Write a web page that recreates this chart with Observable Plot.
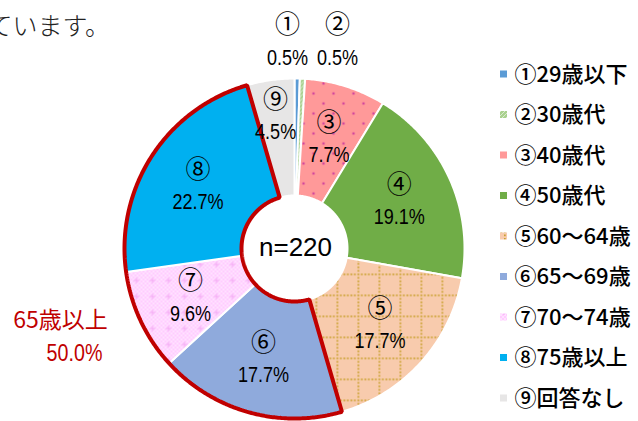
<!DOCTYPE html>
<html><head><meta charset="utf-8">
<script src="https://cdn.jsdelivr.net/npm/d3@7"></script>
<script src="https://cdn.jsdelivr.net/npm/@observablehq/plot@0.6"></script>
<style>
html,body{margin:0;padding:0;background:#fff;}
#chart svg{display:block}
</style></head><body>
<div id="chart"></div>
<script>
// ---- data ----
const categories = ["①","②","③","④","⑤","⑥","⑦","⑧","⑨"];
const legendLabels = ["①29歳以下","②30歳代","③40歳代","④50歳代","⑤60～64歳","⑥65～69歳","⑦70～74歳","⑧75歳以上","⑨回答なし"];
const values = [0.5, 0.5, 7.7, 19.1, 17.7, 17.7, 9.6, 22.7, 4.5];
const colors = ["#5B9BD5","#A9D18E","#FF9999","#70AD47","#F8CBAD","#8FAADC","#FFCCFF","#00B0F0","#E7E6E6"];
const patterns = [null,"diag","dots",null,"grid",null,"check",null,null];
const group65 = ["⑥","⑦","⑧"];
const groupTitle = "65歳以上";
const sampleSize = 220;
const titleText = "ています。";

// ---- pattern defs ----
const defsSvg = d3.select("body").insert("svg", "#chart").attr("width",0).attr("height",0).style("position","absolute");
const defs = defsSvg.append("defs");
function makePattern(id, kind, base){
  if (kind === "diag"){
    const p = defs.append("pattern").attr("id",id).attr("patternUnits","userSpaceOnUse").attr("width",4).attr("height",4);
    p.append("rect").attr("width",4).attr("height",4).attr("fill",base);
    p.append("path").attr("d","M0,4L4,0").attr("stroke","#D9EAD0").attr("stroke-width",1);
  } else if (kind === "dots"){
    const p = defs.append("pattern").attr("id",id).attr("patternUnits","userSpaceOnUse").attr("width",20).attr("height",20);
    p.append("rect").attr("width",20).attr("height",20).attr("fill",base);
    p.append("circle").attr("cx",3).attr("cy",3).attr("r",1.3).attr("fill","#D2459C");
    p.append("circle").attr("cx",13).attr("cy",13).attr("r",1.3).attr("fill","#D2459C");
  } else if (kind === "grid"){
    const p = defs.append("pattern").attr("id",id).attr("patternUnits","userSpaceOnUse").attr("width",21).attr("height",21);
    p.append("rect").attr("width",21).attr("height",21).attr("fill",base);
    for (let i = 0; i < 6; i++){
      p.append("rect").attr("x",i*3.5).attr("y",0).attr("width",1.7).attr("height",1.7).attr("fill","#C9A02E");
      if (i>0) p.append("rect").attr("x",0).attr("y",i*3.5).attr("width",1.7).attr("height",1.7).attr("fill","#C9A02E");
    }
  } else if (kind === "check"){
    const p = defs.append("pattern").attr("id",id).attr("patternUnits","userSpaceOnUse").attr("width",16).attr("height",16);
    p.append("rect").attr("width",16).attr("height",16).attr("fill","#FFE2FF");
    for (let i=0;i<8;i++) for (let j=0;j<8;j++) if ((i+j)%2===0)
      p.append("rect").attr("x",i*2).attr("y",j*2).attr("width",2).attr("height",2).attr("fill",base);
    p.append("path").attr("d","M8,5V11M5,8H11").attr("stroke","#F3A8F3").attr("stroke-width",1);
  }
}
const fills = colors.map((c,i) => {
  if (!patterns[i]) return c;
  const id = "pat" + i;
  makePattern(id, patterns[i], c);
  return `url(#${id})`;
});

// ---- layout ----
const W = 638, H = 421;
const cx = 294, cy = 248, R = 170, R0 = 53;
const total = d3.sum(values);
let cum = 0;
const slices = values.map((v,i) => {
  const a0 = cum / total * 2 * Math.PI; cum += v;
  const a1 = cum / total * 2 * Math.PI;
  return {key: categories[i], value: v, a0, a1, fill: fills[i], i};
});
const pt = (a, rad) => [cx + rad*Math.sin(a), cy - rad*Math.cos(a)];
function ring(a0, a1, key, extra){
  const n = Math.max(2, Math.ceil((a1-a0)/0.01));
  const out = [];
  for (let k=0;k<=n;k++){ const [x,y]=pt(a0+(a1-a0)*k/n, R); out.push({x,y,key,...extra}); }
  for (let k=n;k>=0;k--){ const [x,y]=pt(a0+(a1-a0)*k/n, R0); out.push({x,y,key,...extra}); }
  return out;
}
const slicePts = slices.flatMap(s => ring(s.a0, s.a1, s.key, {fill: s.fill}));
const g = slices.filter(s => group65.includes(s.key));
const groupPts = ring(d3.min(g, s=>s.a0), d3.max(g, s=>s.a1), "g65", {});
const groupValue = d3.sum(g, s=>s.value);

// labels
const small = slices.filter(s => s.value < 1);
const labels = slices.map(s => {
  const mid = (s.a0+s.a1)/2;
  if (s.value < 1){
    const j = small.indexOf(s);
    const x = cx + 18 + (j - (small.length-1)/2)*50;
    return {key:s.key, pct:s.value.toFixed(1)+"%", x, y1: cy-R-54, y2: cy-R-21};
  }
  const rad = s.value < 5 ? 134 : 115;
  const [x,y] = pt(mid, rad);
  return {key:s.key, pct:s.value.toFixed(1)+"%", x, y1:y-16, y2:y+16};
});

const legend = legendLabels.map((t,i) => ({t, fill: fills[i], y: 74 + i*40.5}));

const jp = "'Noto Sans CJK JP', 'Noto Sans', sans-serif";
const lib = "'Liberation Sans', Arial, sans-serif";

const chart = Plot.plot({
  width: W, height: H, margin: 0,
  x: {domain:[0,W], range:[0,W], axis:null},
  y: {domain:[0,H], range:[0,H], axis:null},
  color: {type:"identity"},
  style: {background:"white", overflow:"hidden"},
  marks: [
    Plot.text([titleText], {x: -13, y: 26, text: d=>d, textAnchor:"start", fontSize:25, fontFamily:jp, fontWeight:300, fill:"#222"}),
    Plot.line(slicePts, {x:"x", y:"y", z:"key", fill:"fill", stroke:"white", strokeWidth:2, curve:"linear-closed"}),
    Plot.line(groupPts, {x:"x", y:"y", z:"key", fill:"none", stroke:"#C00000", strokeWidth:4, curve:"linear-closed", strokeLinejoin:"miter"}),
    Plot.text([`n=${sampleSize}`], {x: cx+1, y: cy-1, text:d=>d, fontSize:26, fontFamily:lib, fill:"#000"}),
    Plot.text(labels, {x:"x", y:"y1", text:"key", fontSize:25, fontFamily:jp, fill:"#000"}),
    Plot.text(labels, {x:"x", y:"y2", text:"pct", fontSize:22, fontFamily:lib, fill:"#000"}),
    Plot.text([groupTitle], {x: 60, y: 320, text:d=>d, fontSize:23, fontFamily:jp, fill:"#C00000"}),
    Plot.text([groupValue.toFixed(1)+"%"], {x: 74, y: 353, text:d=>d, fontSize:24, fontFamily:lib, fill:"#C00000"}),
    Plot.rect(legend, {x1: 500, x2: 507, y1: d=>d.y-3.5, y2: d=>d.y+3.5, fill:"fill"}),
    Plot.text(legend, {x: 514, y:"y", text:"t", textAnchor:"start", fontSize:22, fontFamily:jp, fontWeight:500, fill:"#000"})
  ]
});
document.getElementById("chart").appendChild(chart);
// condense the percentage texts (narrow face as in the original)
d3.select(chart).selectAll("text").filter(function(){ return /%$/.test(this.textContent); })
  .each(function(){
    const L = this.getComputedTextLength();
    d3.select(this).attr("textLength", L*0.82).attr("lengthAdjust","spacingAndGlyphs");
  });
</script>
</body></html>
